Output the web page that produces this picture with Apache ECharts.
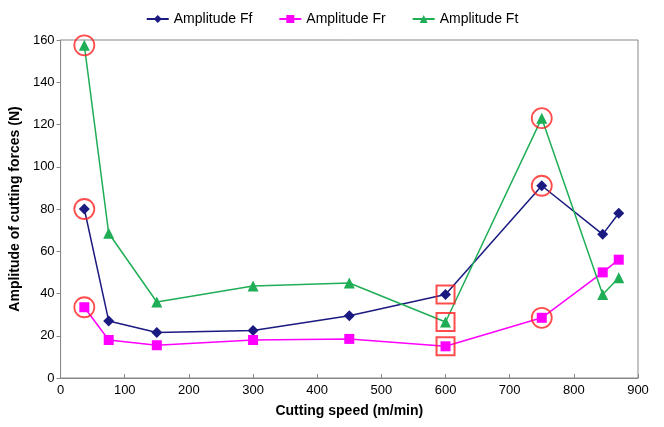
<!DOCTYPE html>
<html><head><meta charset="utf-8">
<script src="https://cdn.jsdelivr.net/npm/echarts@6/dist/echarts.min.js"></script>
<style>html,body{margin:0;padding:0;background:#fff}#c{width:664px;height:427px}</style>
</head><body><div id="c"></div>
<script>
const speeds = [37, 75, 150, 300, 450, 600, 750, 845, 870];
const ampFf = [80, 27, 21.5, 22.5, 29.5, 39.5, 91, 68, 78];
const ampFr = [33.5, 18, 15.5, 18, 18.5, 15, 28.5, 50, 56];
const ampFt = [157.5, 68.5, 36, 43.5, 45, 26.5, 123, 39.5, 47.5];
const circledIdx = [0, 6];
const squaredIdx = [5];

const pairs = (ys) => speeds.map((x, i) => [x, ys[i]]);
const pick = (idx) => {
  const out = [];
  [ampFf, ampFr, ampFt].forEach(ys => idx.forEach(i => out.push([speeds[i], ys[i]])));
  return out;
};
const font = 'Liberation Sans, Arial, sans-serif';
const chart = echarts.init(document.getElementById('c'));
chart.setOption({
  animation: false,
  textStyle: {fontFamily: font},
  legend: {
    top: 7, left: 'center', itemGap: 26, itemWidth: 22, itemHeight: 10,
    textStyle: {fontSize: 14, color: '#000', fontFamily: font},
    data: ['Amplitude Ff', 'Amplitude Fr', 'Amplitude Ft']
  },
  grid: {left: 55, right: 26, top: 40, bottom: 49, show: true, borderColor: '#888', borderWidth: 1},
  xAxis: {
    type: 'value', min: 0, max: 900, interval: 100,
    name: 'Cutting speed (m/min)', nameLocation: 'middle', nameGap: 26,
    nameTextStyle: {fontWeight: 'bold', fontSize: 14, color: '#000', fontFamily: font},
    axisLine: {lineStyle: {color: '#888'}},
    axisTick: {inside: true, length: 4, lineStyle: {color: '#888'}},
    axisLabel: {color: '#000', fontSize: 13, margin: 6, fontFamily: font},
    splitLine: {show: false}
  },
  yAxis: {
    type: 'value', min: 0, max: 160, interval: 20,
    name: 'Amplitude of cutting forces (N)', nameLocation: 'middle', nameGap: 31,
    nameTextStyle: {fontWeight: 'bold', fontSize: 14, color: '#000', fontFamily: font},
    axisLine: {show: true, lineStyle: {color: '#888'}},
    axisTick: {show: true, length: 4, lineStyle: {color: '#888'}},
    axisLabel: {color: '#000', fontSize: 13, margin: 6, fontFamily: font},
    splitLine: {show: false}
  },
  series: [
    {name: 'Amplitude Ff', type: 'line', data: pairs(ampFf), symbol: 'diamond', symbolSize: 11,
      itemStyle: {color: '#1a1a80'}, lineStyle: {width: 1.5, color: '#1a1a80'}, z: 3},
    {name: 'Amplitude Fr', type: 'line', data: pairs(ampFr), symbol: 'rect', symbolSize: 10,
      itemStyle: {color: '#ff00ff'}, lineStyle: {width: 1.5, color: '#ff00ff'}, z: 3},
    {name: 'Amplitude Ft', type: 'line', data: pairs(ampFt), symbol: 'triangle', symbolSize: 11,
      itemStyle: {color: '#1fae56'}, lineStyle: {width: 1.5, color: '#1fae56'}, z: 3},
    {name: 'circles', type: 'scatter', data: pick(circledIdx), symbol: 'circle', symbolSize: 20,
      itemStyle: {color: 'rgba(0,0,0,0)', borderColor: '#ff2020', borderWidth: 1.8}, z: 4, silent: true},
    {name: 'squares', type: 'scatter', data: pick(squaredIdx), symbol: 'rect', symbolSize: 18,
      itemStyle: {color: 'rgba(0,0,0,0)', borderColor: '#ff2020', borderWidth: 2}, z: 4, silent: true}
  ]
});
</script></body></html>
